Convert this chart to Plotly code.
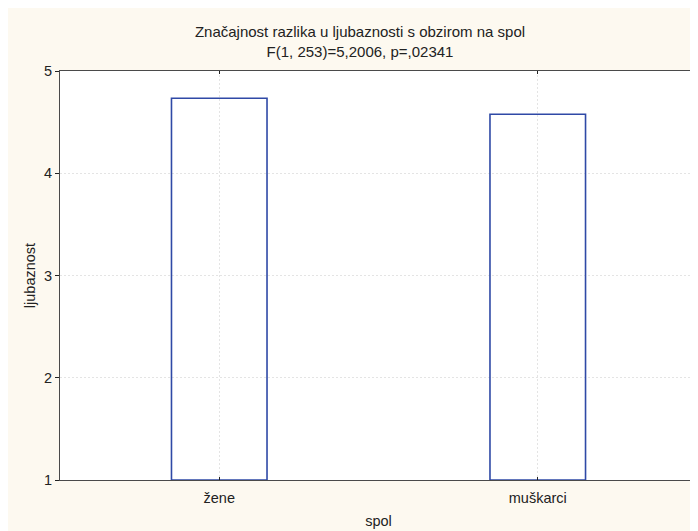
import plotly.graph_objects as go

categories = ["žene", "muškarci"]
means = [4.733, 4.577]
y_ticks = [1, 2, 3, 4, 5]
right_ticks = [4.19, 3.41, 2.51, 1.81]
title_lines = ["Značajnost razlika u ljubaznosti s obzirom na spol", "F(1, 253)=5,2006, p=,02341"]

base = 1
font_family = "Liberation Sans, Arial, sans-serif"

fig = go.Figure()
fig.add_trace(go.Bar(
    x=categories,
    y=[m - base for m in means],
    base=base,
    width=0.3,
    marker=dict(color="rgba(255,255,255,0)", line=dict(color="#2F49A6", width=1.6)),
    showlegend=False,
    hoverinfo="skip",
))
fig.add_trace(go.Scatter(x=categories, y=[None, None], yaxis="y2", showlegend=False))

W, H = 698, 531
ml, mr, mt, mb = 52, 9, 63, 59

grid = dict(showgrid=True, gridcolor="#e4e4e4", gridwidth=1, griddash="2px,2px")

fig.update_layout(
    width=W, height=H,
    margin=dict(l=ml, r=mr, t=mt, b=mb, pad=0, autoexpand=False),
    paper_bgcolor="#FDF9F0",
    plot_bgcolor="white",
    font=dict(family=font_family, size=14.5, color="#222"),
    title=dict(
        text="<br>".join(title_lines),
        x=352 / W, xanchor="center", xref="container",
        y=1 - 29 / H, yanchor="top", yref="container",
        font=dict(size=15, color="#222"),
    ),
    xaxis=dict(
        range=[-0.5, 1.5], automargin=False,
        showline=True, linecolor="#4a4a4a", linewidth=1.2, mirror="ticks",
        ticks="inside", ticklen=3, tickcolor="#222",
        title=dict(text="spol", standoff=11, font=dict(size=14.5)),
        ticklabelstandoff=4,
        zeroline=False,
        **grid,
    ),
    yaxis=dict(
        range=[1, 5], tickvals=y_ticks, automargin=False,
        showline=True, linecolor="#4a4a4a", linewidth=1.2, mirror=True,
        ticks="outside", ticklen=4, tickcolor="#222",
        title=dict(text="ljubaznost", standoff=4, font=dict(size=14.5)),
        zeroline=False,
        **grid,
    ),
    yaxis2=dict(
        overlaying="y", side="right", range=[1, 5], automargin=False,
        tickvals=right_ticks, showticklabels=False,
        ticks="inside", ticklen=3, tickcolor="#444",
        showgrid=False, zeroline=False, showline=False,
    ),
)

fig.write_html(
    "out.html",
    post_script="document.documentElement.style.overflow='hidden';document.body.style.overflow='hidden';",
)
